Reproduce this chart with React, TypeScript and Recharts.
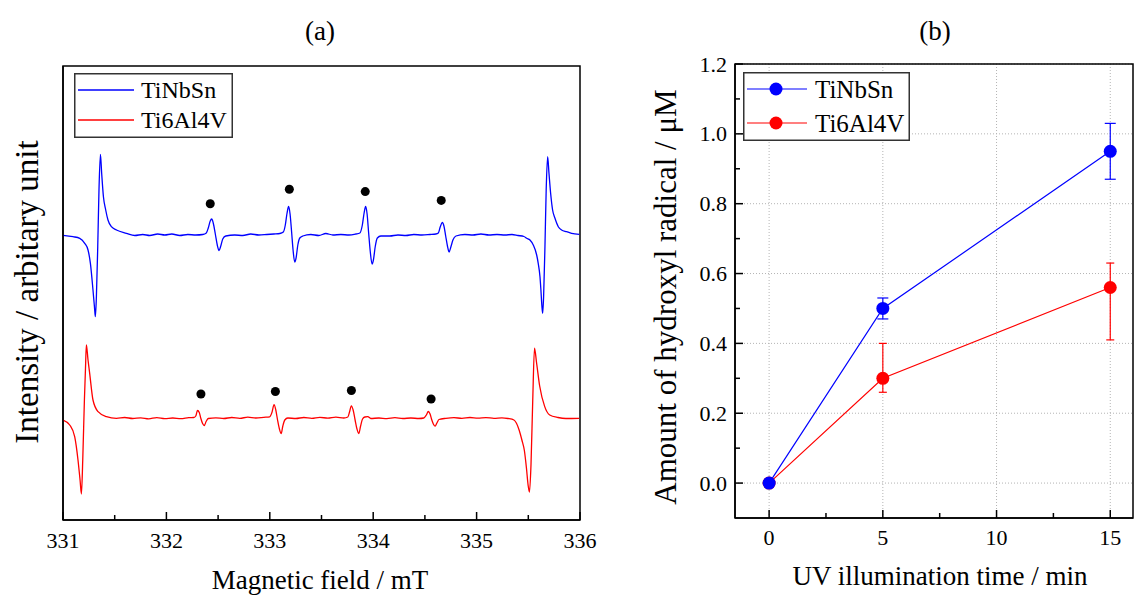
import React from 'react';
import {
  ComposedChart,
  Line,
  Scatter,
  XAxis,
  YAxis,
  CartesianGrid,
  ErrorBar,
  ReferenceArea,
  Legend,
} from 'recharts';

const FONT = '"Liberation Serif", "Times New Roman", Times, serif';

// ---------------- Panel (a): ESR spectra ----------------
const seriesNames = ['TiNbSn', 'Ti6Al4V'];
const seriesColors = ['#0000ff', '#ff0000'];

const fieldTiNbSn = [
  331.0, 331.097, 331.162, 331.21, 331.242, 331.265, 331.29, 331.304, 331.313, 331.323,
  331.336, 331.348, 331.362, 331.374, 331.391, 331.413, 331.435, 331.468, 331.517, 331.613,
  331.694, 331.771, 331.839, 331.916, 331.984, 332.052, 332.129, 332.207, 332.284, 332.352,
  332.386, 332.405, 332.424, 332.438, 332.453, 332.473, 332.492, 332.509, 332.526, 332.545,
  332.574, 332.661, 332.739, 332.816, 332.894, 332.971, 333.039, 333.097, 333.131, 333.15,
  333.167, 333.182, 333.196, 333.211, 333.225, 333.241, 333.254, 333.271, 333.29, 333.319,
  333.397, 333.474, 333.542, 333.61, 333.687, 333.765, 333.832, 333.871, 333.895, 333.912,
  333.927, 333.941, 333.956, 333.972, 333.989, 334.002, 334.019, 334.04, 334.074, 334.161,
  334.239, 334.316, 334.393, 334.471, 334.548, 334.606, 334.63, 334.648, 334.668, 334.684,
  334.701, 334.718, 334.734, 334.751, 334.771, 334.8, 334.887, 334.965, 335.042, 335.119,
  335.197, 335.274, 335.342, 335.4, 335.458, 335.484, 335.516, 335.548, 335.581, 335.596,
  335.613, 335.622, 335.632, 335.639, 335.648, 335.661, 335.673, 335.687, 335.7, 335.716,
  335.735, 335.758, 335.79, 335.822, 335.871, 335.919, 335.993,
];
const intensityTiNbSn = [
  284.7, 283.3, 281.7, 276.7, 270, 256.7, 230, 213.3, 203.3, 223.3,
  273.3, 330, 365.7, 346.7, 323.3, 310, 300, 293.3, 290, 286.7,
  284.5, 285.5, 284.5, 286, 285, 286, 284.5, 285.5, 285, 285.5,
  287, 292, 299, 301, 297, 286, 275, 269.5, 274, 281,
  284, 285, 284.5, 286, 285, 285.5, 286, 286.5, 288, 295,
  307, 313.5, 306, 288, 270, 258, 262, 275, 282, 284,
  285.5, 284.5, 286.5, 285, 285.5, 285, 286, 287, 295, 307,
  313.5, 306, 287, 268, 256, 260, 273, 282, 284, 284,
  285, 284.5, 285.5, 285, 285.5, 286, 287, 293, 297.5, 294,
  284, 274, 268, 273, 280, 284, 285.5, 285, 286, 285,
  285.5, 285, 285.5, 284.5, 283.5, 281.7, 280, 275, 265, 256.7,
  243.3, 230, 213.3, 206.7, 223.3, 273.3, 330, 363.3, 346.7, 326.7,
  310, 301.7, 293.3, 290, 288.3, 286.7, 285.7,
];

const fieldTi6Al4V = [
  331.0, 331.065, 331.113, 331.145, 331.165, 331.178, 331.191, 331.207, 331.217, 331.226,
  331.242, 331.258, 331.29, 331.339, 331.42, 331.517, 331.597, 331.674, 331.752, 331.829,
  331.907, 331.984, 332.061, 332.139, 332.216, 332.265, 332.284, 332.301, 332.318, 332.332,
  332.35, 332.366, 332.384, 332.405, 332.478, 332.555, 332.632, 332.71, 332.787, 332.865,
  332.942, 332.999, 333.022, 333.041, 333.058, 333.075, 333.093, 333.11, 333.126, 333.145,
  333.174, 333.252, 333.329, 333.406, 333.484, 333.561, 333.639, 333.716, 333.755, 333.771,
  333.789, 333.806, 333.825, 333.843, 333.861, 333.878, 333.897, 333.919, 333.948, 333.977,
  334.055, 334.132, 334.21, 334.287, 334.364, 334.442, 334.49, 334.514, 334.533, 334.55,
  334.567, 334.584, 334.599, 334.616, 334.636, 334.703, 334.781, 334.858, 334.936, 335.013,
  335.09, 335.168, 335.245, 335.303, 335.361, 335.412, 335.438, 335.462, 335.482, 335.498,
  335.511, 335.526, 335.543, 335.56, 335.579, 335.61, 335.658, 335.707, 335.787, 335.864,
  335.993,
];
const intensityTi6Al4V = [
  100, 95, 83.3, 60, 40, 26, 60, 120, 150, 175,
  160, 146.7, 120, 108.3, 103.3, 101.7, 102.5, 101.5, 102.2, 101.2,
  102.4, 101.4, 102, 101.3, 102.3, 102.5, 104, 109.5, 107.5, 102,
  96.5, 94.4, 98.5, 101.5, 102.2, 101.5, 102.5, 101.7, 102.8, 102,
  102.7, 103.2, 108, 115.3, 110, 100, 91, 86.4, 94, 100,
  102, 101.5, 102.5, 101.7, 102.7, 101.8, 102.8, 102, 103, 108,
  114.2, 110, 100, 91, 86.4, 94, 101, 103, 103.4, 101.5,
  102, 101.4, 102.3, 101.5, 102, 101.5, 102, 105, 108.5, 106,
  100, 95.5, 93.9, 97, 100.5, 101.7, 102.4, 101.6, 102.5, 101.8,
  102.4, 101.7, 102.2, 101.5, 100, 89.8, 80, 69.5, 52, 35,
  27.8, 55, 120, 171.9, 158, 134, 113.6, 105, 102.5, 101.5,
  101.7,
];

// black dots marking the DMPO-OH adduct lines
const dotFieldTiNbSn = [332.424, 333.189, 333.923, 334.658];
const dotIntensityTiNbSn = [316.2, 330.8, 328.4, 319.6];
const dotFieldTi6Al4V = [332.334, 333.054, 333.789, 334.56];
const dotIntensityTi6Al4V = [126, 128.5, 129.5, 121];

const fieldTicks = [331, 331.5, 332, 332.5, 333, 333.5, 334, 334.5, 335, 335.5, 336];
const fieldDomain = [331, 336];
const intensityDomain = [0, 454];

// ---------------- Panel (b): hydroxyl radical ----------------
const uvTime = [0, 5, 15];
const hydroxylTiNbSn = [0, 0.5, 0.95];
const errLowTiNbSn = [0, 0.03, 0.08];
const errHighTiNbSn = [0, 0.03, 0.08];
const hydroxylTi6Al4V = [0, 0.3, 0.56];
const errLowTi6Al4V = [0, 0.04, 0.15];
const errHighTi6Al4V = [0, 0.1, 0.07];

const timeTicks = [0, 2.5, 5, 7.5, 10, 12.5, 15];
const timeMajor = [0, 5, 10, 15];
const amountTicks = [0, 0.1, 0.2, 0.3, 0.4, 0.5, 0.6, 0.7, 0.8, 0.9, 1.0, 1.1, 1.2];
const amountMajor = [0, 0.2, 0.4, 0.6, 0.8, 1.0, 1.2];
const timeDomain = [-1.5, 16];
const amountDomain = [-0.1, 1.2];

// ---------------- built tables ----------------
const specTiNbSn = fieldTiNbSn.map((x, i) => ({ x, y: intensityTiNbSn[i] }));
const specTi6Al4V = fieldTi6Al4V.map((x, i) => ({ x, y: intensityTi6Al4V[i] }));
const dotsTiNbSn = dotFieldTiNbSn.map((x, i) => ({ x, y: dotIntensityTiNbSn[i] }));
const dotsTi6Al4V = dotFieldTi6Al4V.map((x, i) => ({ x, y: dotIntensityTi6Al4V[i] }));

const dataB = uvTime.map((t, i) => ({
  t,
  a: hydroxylTiNbSn[i],
  aErr: [errLowTiNbSn[i], errHighTiNbSn[i]],
  b: hydroxylTi6Al4V[i],
  bErr: [errLowTi6Al4V[i], errHighTi6Al4V[i]],
}));

const isMajor = (v: number, list: number[]) => list.some((m) => Math.abs(m - v) < 1e-6);
const AXIS = { stroke: '#000', strokeWidth: 1.5 };

const FieldTick = (props: any) => {
  const { x, y, payload } = props;
  const v = payload.value;
  const major = Math.abs(v - Math.round(v)) < 1e-6;
  return (
    <g>
      <line x1={x} y1={y} x2={x} y2={y - (major ? 8 : 5)} stroke="#000" strokeWidth={1.5} />
      {major && (
        <text x={x} y={y + 28} textAnchor="middle" fontFamily={FONT} fontSize={22} fill="#000">
          {v}
        </text>
      )}
    </g>
  );
};

const TimeTick = (props: any) => {
  const { x, y, payload } = props;
  const v = payload.value;
  const major = isMajor(v, timeMajor);
  return (
    <g>
      <line x1={x} y1={y} x2={x} y2={y - (major ? 8 : 5)} stroke="#000" strokeWidth={1.5} />
      {major && (
        <text x={x} y={y + 27} textAnchor="middle" fontFamily={FONT} fontSize={22} fill="#000">
          {v}
        </text>
      )}
    </g>
  );
};

const AmountTick = (props: any) => {
  const { x, y, payload } = props;
  const v = payload.value;
  const major = isMajor(v, amountMajor);
  return (
    <g>
      <line x1={x} y1={y} x2={x + (major ? 8 : 5)} y2={y} stroke="#000" strokeWidth={1.5} />
      {major && (
        <text x={x - 8} y={y + 7.5} textAnchor="end" fontFamily={FONT} fontSize={22} fill="#000">
          {v.toFixed(1)}
        </text>
      )}
    </g>
  );
};

const LegendA = () => (
  <svg width={159} height={65} style={{ display: 'block' }}>
    <rect x={0.75} y={0.75} width={157.5} height={63.5} fill="#fff" stroke="#333" strokeWidth={1.5} />
    {seriesNames.map((n, i) => (
      <g key={n}>
        <line x1={4} x2={60} y1={17 + i * 30} y2={17 + i * 30} stroke={seriesColors[i]} strokeWidth={1.3} />
        <text x={67} y={25 + i * 30} fontFamily={FONT} fontSize={24} fill="#000">
          {n}
        </text>
      </g>
    ))}
  </svg>
);

const LegendB = () => (
  <svg width={167} height={69} style={{ display: 'block' }}>
    <rect x={0.75} y={0.75} width={165.5} height={67.5} fill="#fff" stroke="#333" strokeWidth={1.5} />
    {seriesNames.map((n, i) => (
      <g key={n}>
        <line x1={4} x2={64} y1={17 + i * 34} y2={17 + i * 34} stroke={seriesColors[i]} strokeWidth={1.2} />
        <circle cx={33} cy={17 + i * 34} r={6.5} fill={seriesColors[i]} />
        <text x={72} y={25.5 + i * 34} fontFamily={FONT} fontSize={25} fill="#000">
          {n}
        </text>
      </g>
    ))}
  </svg>
);

export default function App() {
  return (
    <div style={{ position: 'absolute', left: 0, top: 0, width: 1135, height: 598, background: '#fff', fontFamily: FONT }}>
      {/* Panel (a) */}
      <div style={{ position: 'absolute', left: 0, top: 0 }}>
        <ComposedChart width={600} height={598} margin={{ top: 66, right: 20, bottom: 77, left: 62 }}>
          <XAxis
            type="number"
            dataKey="x"
            domain={fieldDomain}
            ticks={fieldTicks}
            interval={0}
            allowDataOverflow
            height={1}
            tickLine={false}
            tickSize={0}
            tickMargin={0}
            axisLine={AXIS}
            tick={FieldTick}
          />
          <YAxis
            type="number"
            dataKey="y"
            domain={intensityDomain}
            allowDataOverflow
            width={1}
            tick={false}
            tickLine={false}
            axisLine={AXIS}
          />
          <ReferenceArea
            x1={fieldDomain[0]}
            x2={fieldDomain[1]}
            y1={intensityDomain[0]}
            y2={intensityDomain[1]}
            fill="none"
            fillOpacity={0}
            stroke="#000"
            strokeWidth={1.5}
          />
          <Line
            data={specTi6Al4V}
            dataKey="y"
            type="monotone"
            stroke={seriesColors[1]}
            strokeWidth={1.3}
            dot={false}
            isAnimationActive={false}
          />
          <Line
            data={specTiNbSn}
            dataKey="y"
            type="monotone"
            stroke={seriesColors[0]}
            strokeWidth={1.3}
            dot={false}
            isAnimationActive={false}
          />
          <Scatter data={dotsTiNbSn} dataKey="y" fill="#000" isAnimationActive={false} />
          <Scatter data={dotsTi6Al4V} dataKey="y" fill="#000" isAnimationActive={false} />
          <Legend
            layout="vertical"
            align="center"
            verticalAlign="middle"
            wrapperStyle={{ left: 74, top: 73, width: 159, height: 65 }}
            content={() => <LegendA />}
          />
        </ComposedChart>
      </div>

      {/* Panel (b) */}
      <div style={{ position: 'absolute', left: 640, top: 0 }}>
        <ComposedChart width={495} height={598} data={dataB} margin={{ top: 64, right: 2, bottom: 79, left: 94 }}>
          <CartesianGrid
            verticalValues={timeMajor}
            horizontalValues={amountMajor}
            stroke="#b4b4b4"
            strokeDasharray="1 2"
            strokeWidth={1}
          />
          <XAxis
            type="number"
            dataKey="t"
            domain={timeDomain}
            ticks={timeTicks}
            interval={0}
            allowDataOverflow
            height={1}
            tickLine={false}
            tickSize={0}
            tickMargin={0}
            axisLine={AXIS}
            tick={TimeTick}
          />
          <YAxis
            type="number"
            domain={amountDomain}
            ticks={amountTicks}
            interval={0}
            allowDataOverflow
            width={1}
            tickLine={false}
            tickSize={0}
            tickMargin={0}
            axisLine={AXIS}
            tick={AmountTick}
          />
          <ReferenceArea
            x1={timeDomain[0]}
            x2={timeDomain[1]}
            y1={amountDomain[0]}
            y2={amountDomain[1]}
            fill="none"
            fillOpacity={0}
            stroke="#000"
            strokeWidth={1.5}
          />
          <Line
            dataKey="b"
            name={seriesNames[1]}
            type="linear"
            stroke={seriesColors[1]}
            strokeWidth={1.2}
            dot={{ r: 6.5, fill: seriesColors[1], stroke: seriesColors[1], strokeWidth: 0 }}
            isAnimationActive={false}
          >
            <ErrorBar dataKey="bErr" direction="y" width={4} stroke={seriesColors[1]} strokeWidth={1.2} isAnimationActive={false} />
          </Line>
          <Line
            dataKey="a"
            name={seriesNames[0]}
            type="linear"
            stroke={seriesColors[0]}
            strokeWidth={1.2}
            dot={{ r: 6.5, fill: seriesColors[0], stroke: seriesColors[0], strokeWidth: 0 }}
            isAnimationActive={false}
          >
            <ErrorBar dataKey="aErr" direction="y" width={5.5} stroke={seriesColors[0]} strokeWidth={1.2} isAnimationActive={false} />
          </Line>
          <Legend
            layout="vertical"
            align="center"
            verticalAlign="middle"
            wrapperStyle={{ left: 103, top: 72, width: 167, height: 69 }}
            content={() => <LegendB />}
          />
        </ComposedChart>
      </div>

      {/* Titles and axis labels */}
      <svg width={1135} height={598} style={{ position: 'absolute', left: 0, top: 0, pointerEvents: 'none' }}>
        <g fontFamily={FONT} fill="#000">
          <text x={320} y={40} fontSize={27} textAnchor="middle">(a)</text>
          <text x={935} y={40} fontSize={27} textAnchor="middle">(b)</text>
          <text x={320} y={589} fontSize={27} textAnchor="middle">Magnetic field / mT</text>
          <text x={940} y={585} fontSize={27} textAnchor="middle">UV illumination time / min</text>
          <text x={38} y={292} fontSize={33} textAnchor="middle" transform="rotate(-90 38 292)">
            Intensity / arbitary unit
          </text>
          <text x={676} y={297} fontSize={31} textAnchor="middle" transform="rotate(-90 676 297)">
            Amount of hydroxyl radical / μM
          </text>
        </g>
      </svg>
    </div>
  );
}
